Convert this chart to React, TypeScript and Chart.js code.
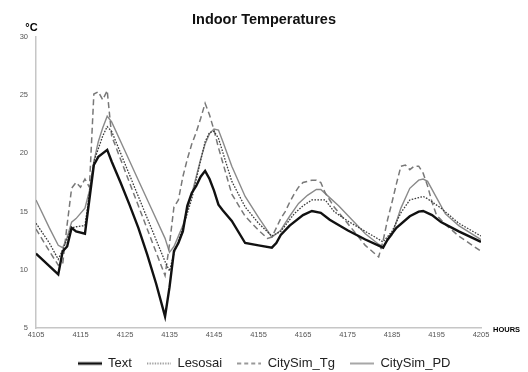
import React, { useEffect, useRef } from 'react';
import { Chart, registerables } from 'chart.js';

Chart.register(...registerables);

const TITLE = 'Indoor Temperatures';
const Y_UNIT = '°C';
const X_UNIT = 'HOURS';
const X_MIN = 4105;
const X_MAX = 4205;
const X_STEP = 10;
const Y_MIN = 5;
const Y_MAX = 30;
const Y_STEP = 5;

const textHours = [4105, 4110, 4111, 4112, 4113, 4114, 4116, 4118, 4119, 4121, 4122, 4124, 4126, 4128, 4130, 4132, 4134, 4135, 4136, 4137, 4138, 4139, 4140, 4141, 4142, 4143, 4144, 4145, 4146, 4147, 4149, 4152, 4155, 4158, 4159, 4160, 4162, 4165, 4167, 4169, 4171, 4175, 4179, 4183, 4184, 4186, 4189, 4191, 4192, 4194, 4196, 4200, 4205];
const textValues = [11.4, 9.6, 11.6, 12.0, 13.6, 13.3, 13.1, 19.0, 19.7, 20.3, 19.3, 17.5, 15.6, 13.6, 11.3, 8.8, 6.0, 8.5, 11.6, 12.3, 13.3, 15.5, 16.6, 17.2, 18.0, 18.5, 17.8, 16.8, 15.6, 15.1, 14.2, 12.3, 12.1, 11.9, 12.3, 13.0, 13.8, 14.7, 15.05, 14.9, 14.3, 13.4, 12.6, 11.9, 12.6, 13.6, 14.6, 15.0, 15.05, 14.7, 14.1, 13.3, 12.4];

const lesosaiHours = [4105, 4108, 4110, 4111, 4113, 4114, 4116, 4117, 4118, 4120, 4121, 4122, 4125, 4128, 4131, 4134, 4135, 4136, 4138, 4140, 4142, 4143, 4144, 4145, 4146, 4149, 4152, 4155, 4158, 4160, 4163, 4165, 4167, 4170, 4172, 4175, 4179, 4183, 4185, 4187, 4189, 4192, 4193, 4196, 4200, 4205];
const lesosaiValues = [14.0, 12.3, 10.9, 11.7, 13.6, 13.7, 13.8, 16.5, 19.3, 21.5, 22.3, 21.9, 19.1, 16.3, 13.5, 10.7, 9.9, 11.4, 13.6, 16.1, 19.4, 21.0, 21.8, 21.9, 21.3, 17.6, 15.4, 14.0, 12.9, 13.3, 14.8, 15.5, 16.0, 16.0, 15.0, 14.2, 13.3, 12.4, 13.3, 14.9, 16.0, 16.3, 16.1, 15.3, 14.0, 12.9];

const tgHours = [4105, 4108, 4110, 4111, 4112, 4113, 4114, 4115, 4116, 4117, 4118, 4119, 4120, 4121, 4122, 4125, 4128, 4131, 4134, 4135, 4136, 4137, 4138, 4139, 4140, 4141, 4142, 4143, 4144, 4145, 4146, 4149, 4152, 4155, 4157, 4158, 4159, 4160, 4161, 4162, 4163, 4164, 4165, 4167, 4168, 4169, 4170, 4172, 4175, 4179, 4182, 4183, 4184, 4185, 4186, 4187, 4188, 4189, 4190, 4191, 4192, 4193, 4194, 4195, 4197, 4200, 4205];
const tgValues = [13.5, 11.6, 10.4, 10.5, 13.9, 17.0, 17.5, 17.1, 17.8, 17.1, 25.1, 25.3, 24.6, 25.4, 21.5, 18.5, 15.5, 12.5, 9.5, 12.2, 15.4, 16.0, 18.0, 19.5, 20.8, 21.8, 23.0, 24.3, 23.3, 22.0, 20.5, 16.5, 14.6, 13.4, 12.7, 12.8, 13.6, 14.4, 15.0, 15.8, 16.5, 17.1, 17.5, 17.7, 17.7, 17.5, 16.6, 15.4, 14.0, 12.1, 11.1, 12.5, 14.3, 15.8, 17.4, 18.9, 19.0, 18.6, 18.9, 18.9, 18.3, 17.2, 15.8, 14.7, 13.9, 12.9, 11.6];

const pdHours = [4105, 4108, 4110, 4111, 4112, 4113, 4114, 4116, 4117, 4118, 4119, 4120, 4121, 4122, 4125, 4128, 4131, 4134, 4135, 4136, 4138, 4140, 4142, 4143, 4144, 4145, 4146, 4147, 4149, 4152, 4155, 4158, 4160, 4162, 4164, 4166, 4168, 4169, 4171, 4173, 4176, 4179, 4182, 4183, 4185, 4187, 4189, 4191, 4192, 4193, 4195, 4197, 4200, 4205];
const pdValues = [16.0, 13.6, 12.1, 11.9, 12.8, 14.1, 14.4, 15.3, 16.8, 19.3, 21.0, 22.2, 23.2, 22.7, 20.2, 17.7, 15.2, 12.7, 11.5, 12.0, 13.8, 16.5, 19.5, 20.8, 21.7, 22.1, 22.0, 21.0, 18.9, 16.3, 14.5, 12.8, 13.4, 14.6, 15.7, 16.4, 16.9, 16.9, 16.2, 15.5, 14.3, 13.1, 12.2, 12.0, 13.0, 15.3, 17.0, 17.7, 17.8, 17.6, 16.2, 14.8, 13.8, 12.6];

const SERIES_NAMES = ['Text', 'Lesosai', 'CitySim_Tg', 'CitySim_PD'];

const FONT = '"Liberation Sans", Arial, sans-serif';
const LEGEND_LINE_W = 24;

const pts = (xs: number[], ys: number[]) => xs.map((x, i) => ({ x, y: ys[i] }));

function legendLine(color: string, width: number, dash: number[]) {
  const c = document.createElement('canvas');
  c.width = LEGEND_LINE_W;
  c.height = 6;
  const g = c.getContext('2d');
  if (g) {
    g.strokeStyle = color;
    g.lineWidth = width;
    g.setLineDash(dash);
    g.beginPath();
    g.moveTo(0, 3);
    g.lineTo(LEGEND_LINE_W, 3);
    g.stroke();
  }
  return c;
}

const unitLabels = {
  id: 'unitLabels',
  afterDraw(chart: any) {
    const { ctx, chartArea } = chart;
    ctx.save();
    ctx.fillStyle = '#000';
    ctx.textBaseline = 'middle';
    ctx.textAlign = 'center';
    ctx.font = `bold 11px ${FONT}`;
    ctx.fillText(Y_UNIT, chartArea.left - 4.5, chartArea.top - 9);
    ctx.textAlign = 'left';
    ctx.font = `bold 7.5px ${FONT}`;
    ctx.fillText(X_UNIT, chartArea.right + 12, chartArea.bottom + 1.5);
    ctx.restore();
  },
};

export default function App() {
  const ref = useRef<HTMLCanvasElement | null>(null);

  useEffect(() => {
    if (!ref.current) return;
    const styles = [
      { color: '#111111', width: 2.4, dash: [] as number[] },
      { color: '#3a3a3a', width: 1.3, dash: [1.6, 1.4] },
      { color: '#787878', width: 1.5, dash: [6, 3.5] },
      { color: '#8a8a8a', width: 1.4, dash: [] as number[] },
    ];
    const legendStyles = [
      legendLine('#111111', 2.6, []),
      legendLine('#3a3a3a', 1.2, [1.3, 1.3]),
      legendLine('#787878', 1.5, [4, 3]),
      legendLine('#8a8a8a', 1.5, []),
    ];
    const series = [
      pts(textHours, textValues),
      pts(lesosaiHours, lesosaiValues),
      pts(tgHours, tgValues),
      pts(pdHours, pdValues),
    ];
    const chart = new Chart(ref.current, {
      type: 'line',
      data: {
        datasets: series.map((data, i) => ({
          label: SERIES_NAMES[i],
          data,
          borderColor: styles[i].color,
          borderWidth: styles[i].width,
          borderDash: styles[i].dash,
          pointRadius: 0,
          pointHoverRadius: 0,
          pointStyle: legendStyles[i] as any,
          tension: 0,
          order: i,
        })),
      },
      options: {
        animation: false,
        responsive: false,
        maintainAspectRatio: false,
        devicePixelRatio: 1,
        layout: { padding: 0 },
        plugins: {
          title: {
            display: true,
            text: TITLE,
            color: '#111',
            font: { family: FONT, size: 14.5, weight: 'bold' },
            padding: { top: 11, bottom: 8.6 },
          },
          legend: {
            display: true,
            position: 'bottom',
            labels: {
              color: '#222',
              font: { family: FONT, size: 13 },
              usePointStyle: true,
              pointStyleWidth: LEGEND_LINE_W,
              boxHeight: 13,
              padding: 15,
            },
          },
          tooltip: { enabled: false },
        },
        scales: {
          x: {
            type: 'linear',
            min: X_MIN,
            max: X_MAX,
            grid: { display: false, drawTicks: false },
            border: { display: true, color: '#c6c6c6', width: 1.5 },
            ticks: {
              stepSize: X_STEP,
              autoSkip: false,
              maxRotation: 0,
              padding: 2,
              color: '#555',
              font: { family: FONT, size: 7.5 },
              callback: (v: any) => String(v),
            },
            afterFit: (s: any) => {
              s.height = 14;
            },
          },
          y: {
            type: 'linear',
            min: Y_MIN,
            max: Y_MAX,
            grid: { display: false, drawTicks: false },
            border: { display: true, color: '#c6c6c6', width: 1.5 },
            ticks: {
              stepSize: Y_STEP,
              padding: 8,
              color: '#555',
              font: { family: FONT, size: 7.5 },
              callback: (v: any) => String(v),
            },
            afterFit: (s: any) => {
              s.width = 36;
            },
          },
          yRight: {
            type: 'linear',
            position: 'right',
            display: true,
            grid: { display: false, drawTicks: false },
            border: { display: false },
            ticks: { display: false },
            afterFit: (s: any) => {
              s.width = 47;
            },
          },
        },
      },
      plugins: [unitLabels],
    });
    return () => chart.destroy();
  }, []);

  return (
    <div style={{ position: 'fixed', left: 0, top: 0, width: 528, height: 372, overflow: 'hidden', background: '#fff' }}>
      <canvas ref={ref} width={528} height={380} style={{ display: 'block', width: 528, height: 380 }} />
    </div>
  );
}
